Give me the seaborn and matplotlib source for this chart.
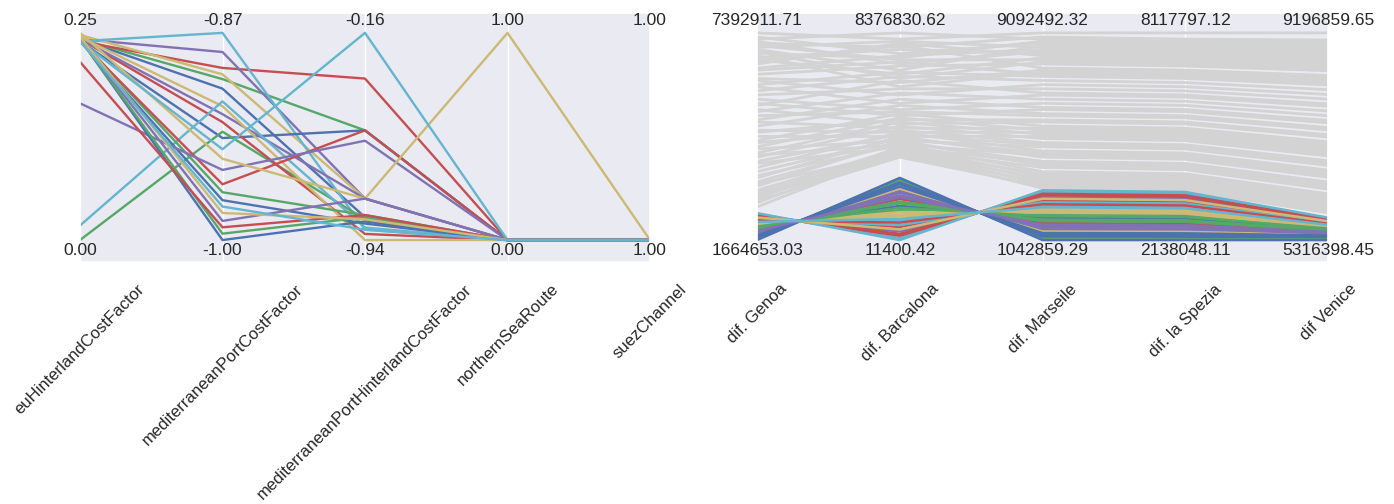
import matplotlib
matplotlib.use("Agg")
import matplotlib.pyplot as plt
import matplotlib.transforms as mtransforms
import numpy as np
import pandas as pd
import seaborn as sns

# ---------------------------------------------------------------------------
# Uncertainties of the selected cases (left panel)
# ---------------------------------------------------------------------------
unc_names = ["euHinterlandCostFactor", "mediterraneanPortCostFactor",
             "mediterraneanPortHinterlandCostFactor", "northernSeaRoute",
             "suezChannel"]
unc_low = [0.00, -1.00, -0.94, 0.00, 1.00]
unc_high = [0.25, -0.87, -0.16, 1.00, 1.00]

eu_hinterland = [0.2425, 0.2425, 0.240, 0.2425, 0.2475, 0.240,
                 0.240, 0.000, 0.2425, 0.2425, 0.245, 0.0175,
                 0.240, 0.2425, 0.240, 0.165, 0.250, 0.240,
                 0.2425, 0.2425, 0.215, 0.2425, 0.245, 0.240]
med_port = [-0.905, -0.899, -0.892, -0.882, -0.896, -0.870,
            -0.936, -0.932, -0.926, -0.921, -0.916, -0.913,
            -0.975, -0.970, -0.965, -0.956, -0.949, -0.943,
            -1.000, -0.996, -0.992, -0.988, -0.983, -0.979]
med_port_hinterland = [-0.854, -0.527, -0.332, -0.784, -0.784, -0.901,
                       -0.527, -0.862, -0.917, -0.784, -0.940, -0.893,
                       -0.878, -0.846, -0.527, -0.566, -0.784, -0.160,
                       -0.870, -0.854, -0.846, -0.784, -0.862, -0.901]
northern_sea_route = [0, 0, 0, 0, 0, 0, 0, 0, 0, 0, 0, 0,
                      0, 0, 0, 0, 1, 0, 0, 0, 0, 0, 0, 0]
suez_channel = [1, 1, 1, 1, 1, 1, 1, 1, 1, 1, 1, 1,
                1, 1, 1, 1, 1, 1, 1, 1, 1, 1, 1, 1]

# ---------------------------------------------------------------------------
# Outcomes (right panel), values in millions
# ---------------------------------------------------------------------------
out_names = ["dif. Genoa", "dif. Barcalona", "dif. Marseile",
             "dif. la Spezia", "dif Venice"]
out_low = [1664653.03, 11400.42, 1042859.29, 2138048.11, 5316398.45]
out_high = [7392911.71, 8376830.62, 9092492.32, 8117797.12, 9196859.65]

# cases outside the selection
genoa_rest = [7.393, 7.221, 7.107, 7.278, 6.992, 6.820, 7.164, 6.706, 6.935, 6.534,
              7.049, 6.419, 6.648, 6.877, 6.247, 6.591, 6.133, 6.362, 5.961, 6.763,
              5.789, 6.076, 5.675, 5.388, 5.904, 5.216, 5.560, 4.987, 5.445, 4.815,
              5.102, 4.644, 5.274, 4.414, 4.930, 4.243, 4.701, 4.071, 4.529, 3.956,
              4.357, 3.842, 4.185, 3.670, 3.555, 4.013, 3.383, 3.269, 3.784, 3.154,
              3.040, 3.441, 2.925, 2.811, 3.212, 2.696, 2.868, 2.581, 2.753, 2.982]
barcelona_rest = [8.125, 8.377, 7.790, 7.540, 8.041, 7.372, 7.121, 7.707, 6.870, 7.958,
                  7.289, 7.456, 6.703, 6.536, 7.038, 7.874, 6.368, 7.205, 6.787, 6.201,
                  6.619, 5.867, 6.117, 6.452, 5.532, 5.950, 5.281, 5.699, 5.030, 5.448,
                  5.197, 4.863, 4.695, 5.114, 4.528, 4.946, 4.361, 4.779, 4.194, 4.612,
                  4.444, 4.277, 4.026, 4.361, 4.110, 3.859, 4.194, 3.943, 3.775, 4.026,
                  3.692, 3.859, 3.608, 3.775, 3.524, 3.692, 3.441, 3.608, 3.357, 3.524]
marseille_rest = [9.092, 8.852, 8.932, 8.691, 8.530, 8.771, 8.369, 8.288, 8.610, 8.208,
                  8.047, 8.449, 8.127, 7.966, 7.886, 7.725, 7.644, 7.483, 7.403, 7.564,
                  7.242, 7.081, 6.920, 6.759, 6.678, 6.517, 6.356, 6.195, 6.115, 5.954,
                  5.873, 5.712, 5.632, 5.471, 5.390, 5.310, 5.229, 5.149, 5.068, 4.988,
                  4.827, 4.746, 4.666, 4.505, 4.424, 4.344, 4.263, 4.102, 4.022, 3.941,
                  3.861, 3.700, 3.619, 3.539, 3.458, 3.378, 3.297, 3.217, 3.136, 3.056]
spezia_rest = [8.118, 7.879, 7.938, 7.759, 7.639, 7.819, 7.520, 7.460, 7.699, 7.400,
               7.281, 7.580, 7.340, 7.221, 7.161, 7.041, 6.982, 6.862, 6.802, 6.922,
               6.683, 6.563, 6.443, 6.324, 6.264, 6.144, 6.025, 5.905, 5.845, 5.726,
               5.666, 5.546, 5.487, 5.367, 5.307, 5.247, 5.188, 5.128, 5.068, 5.008,
               4.889, 4.829, 4.769, 4.649, 4.590, 4.530, 4.470, 4.350, 4.291, 4.231,
               4.171, 4.051, 3.992, 3.932, 3.872, 3.812, 3.752, 3.693, 3.633, 3.573]
venice_rest = [9.197, 9.020, 9.064, 8.931, 8.843, 8.976, 8.754, 8.710, 8.887, 8.665,
               8.576, 8.798, 8.621, 8.532, 8.488, 8.399, 8.355, 8.266, 8.222, 8.310,
               8.133, 8.044, 7.956, 7.867, 7.823, 7.734, 7.645, 7.556, 7.512, 7.423,
               7.379, 7.290, 7.246, 7.157, 7.113, 7.069, 7.024, 6.980, 6.936, 6.891,
               6.802, 6.758, 6.714, 6.625, 6.581, 6.536, 6.492, 6.403, 6.359, 6.315,
               6.270, 6.182, 6.137, 6.093, 6.049, 6.004, 5.960, 5.915, 5.871, 5.827]

# selected cases
genoa_sel = [2.015, 1.715, 2.259, 1.843, 2.137, 2.388, 1.765, 2.065, 1.936, 2.309,
             1.815, 2.187, 1.665, 1.987, 2.359, 1.894, 2.087, 2.237, 1.743, 1.965,
             2.337, 1.865, 2.115, 2.409, 1.793, 2.037, 2.209, 1.915, 2.287, 2.166]
barcelona_sel = [1.392, 2.446, 0.538, 1.994, 0.965, 0.086, 2.270, 1.216, 1.668, 0.362,
                 2.094, 0.789, 2.521, 1.492, 0.187, 1.818, 1.141, 0.613, 2.345, 1.567,
                 0.262, 1.919, 1.040, 0.0114, 2.170, 1.316, 0.714, 1.743, 0.438, 0.864]
marseille_sel = [1.912, 1.101, 2.569, 1.449, 2.241, 2.917, 1.236, 2.048, 1.700, 2.705,
                 1.371, 2.376, 1.043, 1.835, 2.840, 1.584, 2.106, 2.511, 1.178, 1.777,
                 2.782, 1.507, 2.183, 2.975, 1.313, 1.970, 2.434, 1.642, 2.647, 2.318]
spezia_sel = [2.762, 2.180, 3.234, 2.429, 2.998, 3.483, 2.277, 2.859, 2.610, 3.331,
              2.374, 3.095, 2.138, 2.707, 3.428, 2.526, 2.901, 3.192, 2.235, 2.665,
              3.386, 2.471, 2.956, 3.525, 2.332, 2.804, 3.137, 2.568, 3.289, 3.054]
venice_sel = [5.522, 5.359, 5.654, 5.428, 5.588, 5.723, 5.386, 5.549, 5.479, 5.681,
              5.413, 5.615, 5.316, 5.506, 5.708, 5.456, 5.560, 5.642, 5.374, 5.494,
              5.696, 5.440, 5.576, 5.735, 5.401, 5.533, 5.626, 5.467, 5.669, 5.603]


def long_frame(columns, lows, highs, scale=1.0):
    """Rescale every column onto [0, 1] using its axis range."""
    rows = []
    for line_id, values in enumerate(zip(*columns)):
        for pos, (v, lo, hi) in enumerate(zip(values, lows, highs)):
            norm = (v * scale - lo) / (hi - lo) if hi > lo else 0.0
            rows.append((f"case{line_id}", pos, norm))
    return pd.DataFrame(rows, columns=["case", "axis", "value"])


unc_df = long_frame([eu_hinterland, med_port, med_port_hinterland,
                     northern_sea_route, suez_channel], unc_low, unc_high)
rest_df = long_frame([genoa_rest, barcelona_rest, marseille_rest,
                      spezia_rest, venice_rest], out_low, out_high, scale=1e6)
sel_df = long_frame([genoa_sel, barcelona_sel, marseille_sel,
                     spezia_sel, venice_sel], out_low, out_high, scale=1e6)

sns.set_theme(style="darkgrid")
plt.rcParams["font.family"] = ["Liberation Sans", "DejaVu Sans"]
plt.rcParams["text.color"] = "#262626"
plt.rcParams["xtick.color"] = "#262626"

deep6 = sns.color_palette("deep6")

fig = plt.figure(figsize=(13.94, 5.04), dpi=100)
W, H = 1394, 504
ax_unc = fig.add_axes([80 / W, 242 / H, 570 / W, 249 / H])
ax_out = fig.add_axes([757 / W, 242 / H, 571 / W, 249 / H])

# left: uncertainties
n_unc = unc_df["case"].nunique()
sns.lineplot(data=unc_df, x="axis", y="value", hue="case",
             palette=[deep6[i % 6] for i in range(n_unc)],
             estimator=None, sort=False, legend=False, lw=1.7, ax=ax_unc)

# right: outcomes, context cases in grey under the selection
sns.lineplot(data=rest_df, x="axis", y="value", units="case", color="#d3d3d3",
             estimator=None, sort=False, legend=False, lw=2.0, ax=ax_out)
n_sel = sel_df["case"].nunique()
sns.lineplot(data=sel_df, x="axis", y="value", hue="case",
             palette=[deep6[i % 6] for i in range(n_sel)],
             estimator=None, sort=False, legend=False, lw=1.8, ax=ax_out)


def finish(ax, names, lows, highs):
    ax.set_xlim(0, len(names) - 1)
    ax.set_ylim(-0.106, 1.096)
    ax.set_yticks([])
    ax.set_xticks(range(len(names)))
    ax.set_xticklabels(names, rotation=45)
    ax.tick_params(axis="x", pad=14, labelsize=12, length=0)
    ax.set_xlabel("")
    ax.set_ylabel("")
    ax.grid(axis="y", visible=False)
    trans = mtransforms.blended_transform_factory(ax.transData, ax.transAxes)
    for i, (lo, hi) in enumerate(zip(lows, highs)):
        ax.text(i, 0.968, f"{hi:.2f}", transform=trans, ha="center",
                va="center", fontsize=12.5)
        ax.text(i, 0.045, f"{lo:.2f}", transform=trans, ha="center",
                va="center", fontsize=12.5)


finish(ax_unc, unc_names, unc_low, unc_high)
finish(ax_out, out_names, out_low, out_high)

fig.savefig("out.png", dpi=100)
